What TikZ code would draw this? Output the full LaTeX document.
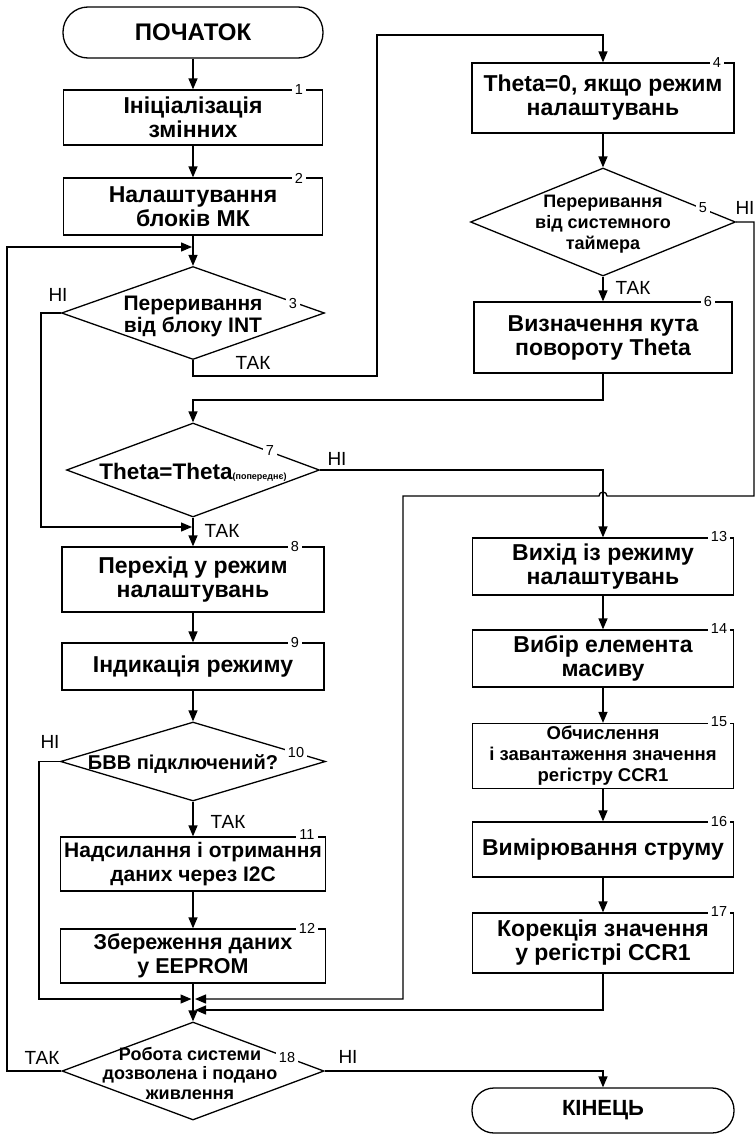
\documentclass[tikz,border=0pt]{standalone}
\usepackage{fontspec}
\setmainfont{Liberation Sans}
\usetikzlibrary{arrows.meta,shapes.geometric}
\newcommand\myfs[2]{\fontsize{#1}{#2}\selectfont}
\begin{document}
\begin{tikzpicture}[x=1pt,y=-1pt,
  ln/.style={line width=1.3pt},
  arr/.style={line width=1.3pt,-{Triangle[length=11pt,width=9pt]}},
  box/.style={draw,line width=1.3pt,align=center,inner sep=0pt,font=\bfseries\myfs{23}{24}},
  term/.style={draw,line width=1.3pt,align=center,inner sep=0pt},
  dia/.style={draw,diamond,line width=1.3pt,inner sep=0pt},
  dtext/.style={align=center,inner sep=0pt},
  num/.style={fill=white,inner xsep=3pt,inner ysep=1pt,font=\myfs{14.5}{14.5}},
  lbl/.style={inner sep=1pt,font=\myfs{19}{19}}]
\useasboundingbox (0,0) rectangle (755,1135);
\fill[white] (0,0) rectangle (755,1135);

% left column
\node[term,rounded corners=25pt,minimum width=260pt,minimum height=51pt,font=\bfseries\myfs{24}{24}] (start) at (193,32.5) {ПОЧАТОК};
\node[box,minimum width=259pt,minimum height=55pt] (b1) at (193,117.5) {Ініціалізація\\змінних};
\node[box,minimum width=259pt,minimum height=57pt] (b2) at (193,206.5) {Налаштування\\блоків МК};
\node[dia,minimum width=263pt,minimum height=93pt] (d3) at (193,313) {};
\node[dtext,font=\bfseries\myfs{21}{22}] (t3) at (193,316) {Переривання\\від блоку INT};
\node[dia,minimum width=253pt,minimum height=94pt] (d7) at (193,470) {};
\node[dtext] (t7) at (193,472) {\bfseries\myfs{22.5}{24}Theta=Theta{\myfs{9}{10}(попереднє)}};
\node[box,minimum width=262pt,minimum height=65pt] (b8) at (193,579.5) {Перехід у режим\\налаштувань};
\node[box,minimum width=262pt,minimum height=47pt] (b9) at (193,666.5) {Індикація режиму};
\node[dia,minimum width=265pt,minimum height=79pt] (d10) at (193,761.5) {};
\node[dtext,font=\bfseries\myfs{20}{22}] (t10) at (183,764) {БВВ підключений?};
\node[box,minimum width=265pt,minimum height=54pt,font=\bfseries\myfs{21}{23.5}] (b11) at (193,864) {Надсилання і отримання\\даних через I2C};
\node[box,minimum width=265pt,minimum height=54pt,font=\bfseries\myfs{21.5}{24}] (b12) at (193,956) {Збереження даних\\у EEPROM};
\node[dia,minimum width=262pt,minimum height=98pt] (d18) at (193,1071) {};
\node[dtext,font=\bfseries\myfs{18}{19.5}] (t18) at (190,1073) {Робота системи\\дозволена і подано\\живлення};

% right column
\node[box,minimum width=262pt,minimum height=70pt] (b4) at (603,98) {Theta=0, якщо режим\\налаштувань};
\node[dia,minimum width=265pt,minimum height=108pt] (d5) at (603,222) {};
\node[dtext,font=\bfseries\myfs{18}{21}] (t5) at (603,224) {Переривання\\від системного\\таймера};
\node[box,minimum width=258pt,minimum height=71pt] (b6) at (603,337.5) {Визначення кута\\повороту Theta};
\node[box,minimum width=261pt,minimum height=57pt] (b13) at (603,566.5) {Вихід із режиму\\налаштувань};
\node[box,minimum width=261pt,minimum height=57pt] (b14) at (603,658.5) {Вибір елемента\\масиву};
\node[box,minimum width=261pt,minimum height=65pt,font=\bfseries\myfs{18.5}{21}] (b15) at (603,756) {Обчислення\\і завантаження значення\\регістру CCR1};
\node[box,minimum width=261pt,minimum height=55pt] (b16) at (603,849.5) {Вимірювання струму};
\node[box,minimum width=261pt,minimum height=60pt] (b17) at (603,943) {Корекція значення\\у регістрі CCR1};
\node[term,rounded corners=22pt,minimum width=262pt,minimum height=45pt,font=\bfseries\myfs{22}{22}] (end) at (603,1110.5) {КІНЕЦЬ};

% junction points
\coordinate (j3) at (192,247);
\coordinate (j8) at (192,527);
\coordinate (jL) at (191.5,999);
\coordinate (jR1) at (195,999);
\coordinate (jR2) at (195,1010);

% connectors
\draw[arr] (start) -- (b1);
\draw[arr] (b1) -- (b2);
\draw[arr] (b2) -- (d3);
\draw[arr] (d3.south) -- (193,376) -| (377,35) -| (b4.north);
\draw[arr] (d3.west) -- (41,313) |- (j8);
\draw[arr] (b4) -- (d5);
\draw[arr] (d5) -- (b6);
\draw[arr] (d5.east) -- (754,222) -- (754,496) -- (607,496) arc(0:180:4pt) -- (403,496) |- (jR1);
\draw[arr] (b6.south) -- (603,400) -| (d7.north);
\draw[arr] (d7.east) -| (b13.north);
\draw[arr] (d7) -- (b8);
\draw[arr] (b8) -- (b9);
\draw[arr] (b9) -- (d10);
\draw[arr] (d10) -- (b11);
\draw[arr] (b11) -- (b12);
\draw[arr] (b12) -- (d18);
\draw[arr] (d10.west) -- (39,761.5) |- (jL);
\draw[arr] (b13) -- (b14);
\draw[arr] (b14) -- (b15);
\draw[arr] (b15) -- (b16);
\draw[arr] (b16) -- (b17);
\draw[arr] (b17.south) |- (jR2);
\draw[arr] (d18.west) -- (7,1071) |- (j3);
\draw[arr] (d18.east) -| (end.north);

% numbers
\node[num] (n1) at (299,90) {1};
\node[num] (n2) at (299,178) {2};
\node[num] (n3) at (293,304) {3};
\node[num] (n4) at (717,63) {4};
\node[num] (n5) at (703,208) {5};
\node[num] (n6) at (708,302) {6};
\node[num] (n7) at (270,451) {7};
\node[num] (n8) at (295,547) {8};
\node[num] (n9) at (295,643) {9};
\node[num] (n10) at (296,752) {10};
\node[num] (n11) at (307,835) {11};
\node[num] (n12) at (307,928) {12};
\node[num] (n13) at (719,537) {13};
\node[num] (n14) at (719,629) {14};
\node[num] (n15) at (719,722) {15};
\node[num] (n16) at (719,821) {16};
\node[num] (n17) at (719,912) {17};
\node[num] (n18) at (287,1057) {18};

% yes/no labels
\node[lbl] (l3n) at (58,295) {НІ};
\node[lbl] (l3y) at (253,363) {ТАК};
\node[lbl] (l5n) at (745,208) {НІ};
\node[lbl] (l5y) at (633,288) {ТАК};
\node[lbl] (l7n) at (337,459) {НІ};
\node[lbl] (l7y) at (222,531) {ТАК};
\node[lbl] (l10n) at (50,742) {НІ};
\node[lbl] (l10y) at (228,822) {ТАК};
\node[lbl] (l18y) at (42,1058) {ТАК};
\node[lbl] (l18n) at (348,1057) {НІ};
\end{tikzpicture}
\end{document}
